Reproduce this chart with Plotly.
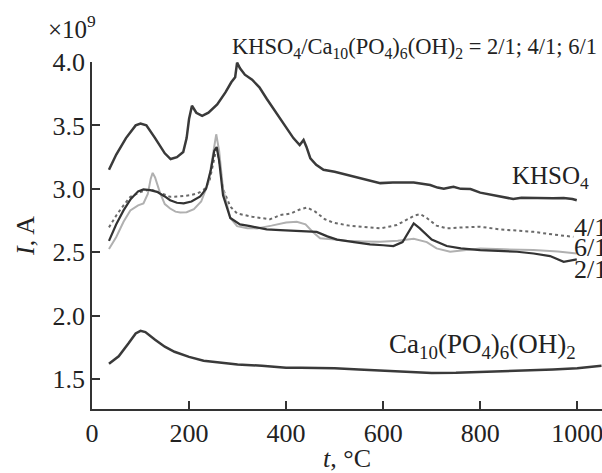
import plotly.graph_objects as go

# ---- data ----
t_khso4 = [35, 50, 70, 90, 100, 112, 130, 150, 162, 175, 188, 195, 200, 206, 215, 227, 240, 258, 275, 287,
           295, 299, 305, 315, 330, 345, 360, 380, 400, 415, 428, 436, 442, 450, 462, 477, 500, 525, 550, 567,
           580, 594, 620, 645, 663, 680, 697, 712, 725, 737, 745, 760, 780, 800, 830, 868, 885, 903, 930, 950,
           972, 990, 999]
i_khso4 = [3.15, 3.27, 3.40, 3.50, 3.515, 3.50, 3.40, 3.28, 3.235, 3.25, 3.29, 3.40, 3.55, 3.655, 3.60, 3.575,
           3.60, 3.665, 3.76, 3.84, 3.88, 3.995, 3.95, 3.90, 3.86, 3.80, 3.71, 3.60, 3.49, 3.40, 3.345, 3.385,
           3.33, 3.24, 3.19, 3.15, 3.135, 3.11, 3.085, 3.07, 3.055, 3.045, 3.05, 3.05, 3.05, 3.04, 3.03, 3.01,
           3.0, 3.01, 3.016, 3.0, 2.998, 2.97, 2.95, 2.92, 2.93, 2.928, 2.93, 2.925, 2.928, 2.92, 2.91]

t_hap = [35, 55, 75, 90, 100, 110, 130, 150, 170, 200, 230, 260, 300, 350, 400, 430, 500, 550, 600, 650,
         700, 750, 800, 850, 900, 950, 1000, 1050]
i_hap = [1.62, 1.68, 1.78, 1.86, 1.88, 1.87, 1.81, 1.755, 1.715, 1.675, 1.645, 1.63, 1.615, 1.605, 1.59, 1.59,
         1.585, 1.575, 1.565, 1.555, 1.548, 1.55, 1.555, 1.56, 1.565, 1.575, 1.585, 1.605]

t_r2 = [35, 50, 65, 80, 95, 106, 120, 134, 150, 161, 175, 189, 205, 223, 235, 245, 252, 257, 262, 270, 285,
        305, 326, 360, 388, 410, 443, 463, 485, 505, 540, 573, 600, 621, 640, 655, 663, 675, 700, 731, 760,
        800, 840, 876, 910, 944, 972, 999]
i_r2 = [2.59, 2.72, 2.83, 2.92, 2.98, 2.995, 2.99, 2.976, 2.94, 2.91, 2.89, 2.885, 2.90, 2.94, 3.00, 3.15,
        3.30, 3.33, 3.22, 2.95, 2.77, 2.72, 2.706, 2.68, 2.675, 2.67, 2.661, 2.66, 2.625, 2.60, 2.58, 2.562,
        2.555, 2.549, 2.58, 2.68, 2.727, 2.69, 2.60, 2.549, 2.53, 2.517, 2.512, 2.504, 2.49, 2.47, 2.425, 2.444]

t_r6 = [35, 50, 65, 79, 95, 106, 115, 121, 125, 130, 140, 150, 161, 172, 182, 195, 210, 225, 240, 250, 256,
        262, 270, 285, 299, 320, 340, 370, 400, 422, 440, 455, 470, 500, 525, 560, 594, 630, 663, 690, 710,
        738, 770, 800, 850, 910, 960, 999]
i_r6 = [2.525, 2.62, 2.74, 2.83, 2.87, 2.885, 2.96, 3.08, 3.126, 3.09, 2.97, 2.88, 2.845, 2.82, 2.814, 2.815,
        2.84, 2.90, 3.05, 3.30, 3.43, 3.30, 3.0, 2.77, 2.706, 2.69, 2.688, 2.71, 2.735, 2.74, 2.72, 2.66, 2.61,
        2.60, 2.59, 2.585, 2.583, 2.59, 2.606, 2.58, 2.53, 2.504, 2.515, 2.53, 2.523, 2.517, 2.505, 2.49]

t_r4 = [35, 50, 65, 79, 100, 120, 140, 161, 180, 203, 218, 230, 242, 250, 257, 263, 270, 285, 299, 330, 367,
        388, 410, 430, 443, 460, 480, 498, 530, 560, 594, 628, 650, 665, 677, 690, 710, 731, 760, 800, 841,
        880, 910, 950, 992]
i_r4 = [2.696, 2.79, 2.87, 2.937, 2.975, 2.995, 2.97, 2.937, 2.94, 2.95, 2.965, 2.99, 3.06, 3.20, 3.33, 3.20,
        3.0, 2.86, 2.806, 2.78, 2.76, 2.793, 2.806, 2.84, 2.853, 2.82, 2.76, 2.732, 2.71, 2.70, 2.688, 2.714,
        2.76, 2.79, 2.80, 2.77, 2.71, 2.688, 2.695, 2.701, 2.68, 2.67, 2.661, 2.64, 2.622]

x_ticks = [0, 200, 400, 600, 800, 1000]
y_ticks = [1.5, 2.0, 2.5, 3.0, 3.5, 4.0]

FONT = "Liberation Serif"
DARK = "#3a3a3a"

fig = go.Figure()
fig.add_trace(go.Scatter(x=t_hap, y=i_hap, mode="lines", line=dict(color=DARK, width=2.5), showlegend=False))
fig.add_trace(go.Scatter(x=t_khso4, y=i_khso4, mode="lines", line=dict(color=DARK, width=2.5), showlegend=False))
fig.add_trace(go.Scatter(x=t_r4, y=i_r4, mode="lines", line=dict(color="#6a6a6a", width=2, dash="dot"), showlegend=False))
fig.add_trace(go.Scatter(x=t_r6, y=i_r6, mode="lines", line=dict(color="#b0b0b0", width=2), showlegend=False))
fig.add_trace(go.Scatter(x=t_r2, y=i_r2, mode="lines", line=dict(color="#333333", width=2.2), showlegend=False))

W, H = 602, 473
L, R, T, B = 92, 0, 62, 64
pw, ph = W - L - R, H - T - B


def px(x):
    return (x - L) / pw


def py(y):
    return (H - B - y) / ph


def ann(text, x, y, size, xanchor="center", yanchor="middle"):
    fig.add_annotation(text=text, x=px(x), y=py(y), xref="paper", yref="paper", showarrow=False,
                       xanchor=xanchor, yanchor=yanchor, font=dict(family=FONT, size=size, color="#222"))


ann("×10<sup>9</sup>", 46, 27, 25, xanchor="left")
ann("KHSO<sub>4</sub>/Ca<sub>10</sub>(PO<sub>4</sub>)<sub>6</sub>(OH)<sub>2</sub> = 2/1; 4/1; 6/1", 599, 48, 22.5, xanchor="right")
ann("KHSO<sub>4</sub>", 510, 177, 25, xanchor="left")
ann("Ca<sub>10</sub>(PO<sub>4</sub>)<sub>6</sub>(OH)<sub>2</sub>", 387, 346, 27, xanchor="left")
ann("4/1", 572, 228, 26, xanchor="left")
ann("6/1", 572, 247, 26, xanchor="left")
ann("2/1", 572, 269, 26, xanchor="left")

axis_common = dict(showline=True, linecolor="#333", linewidth=1.5, ticks="inside", ticklen=8, tickwidth=1.5,
                   tickcolor="#333", showgrid=False, zeroline=False, automargin=False,
                   ticklabeloverflow="allow",
                   tickfont=dict(family=FONT, size=26, color="#222"))

fig.update_xaxes(range=[0, 1051], tickvals=x_ticks, **axis_common,
                 title=dict(text="<i>t</i>, °C", font=dict(family=FONT, size=26, color="#222"), standoff=2))
fig.update_yaxes(range=[1.264, 4.0], tickvals=y_ticks, tickformat=".1f", **axis_common,
                 title=dict(text="<i>I</i>, A", font=dict(family=FONT, size=26, color="#222"), standoff=10))

fig.update_layout(width=W, height=H, margin=dict(l=L, r=R, t=T, b=B), plot_bgcolor="white",
                  paper_bgcolor="white", showlegend=False)

fig.write_html("out.html", config={"displayModeBar": False},
               post_script="document.body.style.margin='0';")
